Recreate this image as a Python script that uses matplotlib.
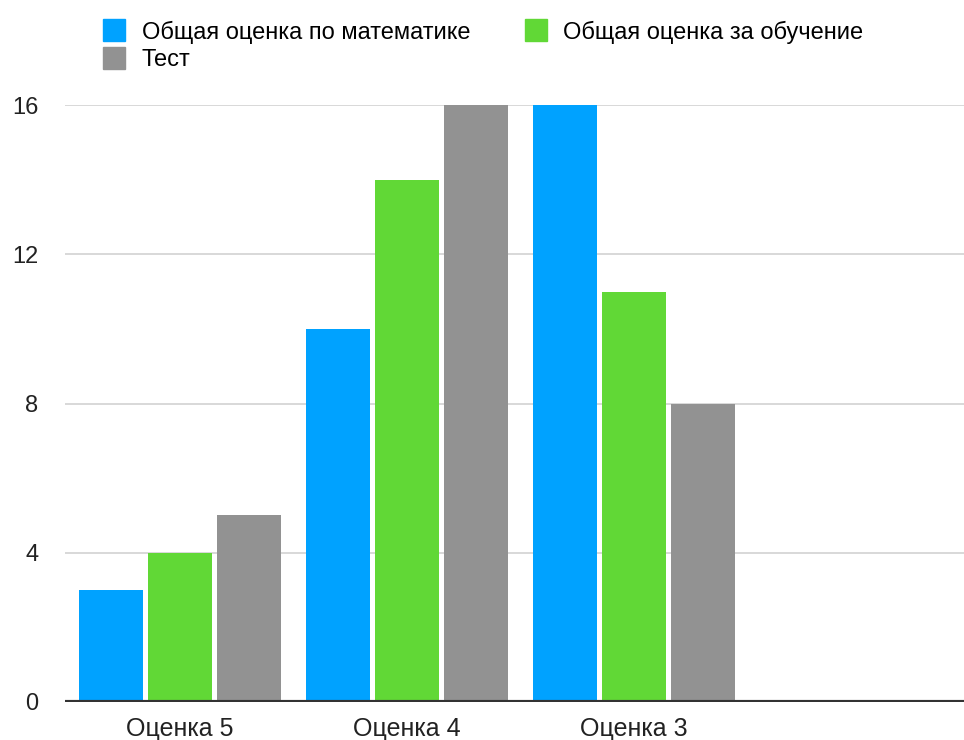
import numpy as np
import matplotlib
matplotlib.use("Agg")
import matplotlib.pyplot as plt
from matplotlib.patches import Patch

categories = ["Оценка 5", "Оценка 4", "Оценка 3"]
series_names = ["Общая оценка по математике", "Общая оценка за обучение", "Тест"]
math_scores = [3, 10, 16]
study_scores = [4, 14, 11]
test_scores = [5, 16, 8]
colors = ["#00A2FF", "#61D836", "#929292"]

plt.rcParams["font.family"] = ["Liberation Sans", "DejaVu Sans"]

fig = plt.figure(figsize=(9.64, 7.4), dpi=100)
ax = fig.add_axes([65 / 964, 1 - 702 / 740, 1 - 65 / 964, (702 - 105) / 740])

x = np.arange(len(categories))
width = 0.28
step = 0.304
for i, (vals, col) in enumerate(zip([math_scores, study_scores, test_scores], colors)):
    ax.bar(x + (i - 1) * step, vals, width, color=col, zorder=2)

ax.set_ylim(0, 16)
ax.set_xlim(-0.507, 3.454)
ax.set_yticks([0, 4, 8, 12, 16])
ax.set_xticks(x)
ax.set_xticklabels(categories)
ax.tick_params(axis="y", length=0, pad=19, labelsize=17, colors="#222222")
ax.tick_params(axis="x", length=0, pad=11, labelsize=18, colors="#222222")
ax.grid(axis="y", color="#d2d2d2", linewidth=1.2, zorder=0)
ax.axhline(0, color="#333333", linewidth=3, zorder=3)
for s in ax.spines.values():
    s.set_visible(False)

handles = [Patch(color=c) for c in colors]
# column-wise fill: order so rows read blue, green / gray
order = [0, 2, 1]
fig.legend([handles[i] for i in order], [series_names[i] for i in order],
           loc="upper left", bbox_to_anchor=(94 / 964, 1 - 10 / 740), ncol=2,
           frameon=False, fontsize=17, handlelength=0.93, handleheight=1.06,
           handletextpad=0.7, labelspacing=0.15, columnspacing=2.3,
           borderaxespad=0)

fig.savefig("out.png", dpi=100)
